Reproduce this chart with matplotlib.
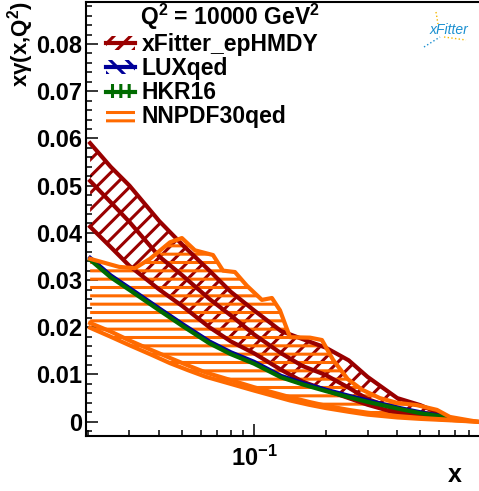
import matplotlib
matplotlib.use("Agg")
import numpy as np
import matplotlib.pyplot as plt
from matplotlib.patches import Patch
from matplotlib.lines import Line2D
from matplotlib.ticker import LogLocator, NullFormatter, MultipleLocator, FuncFormatter

plt.rcParams['font.family'] = ['Liberation Sans', 'DejaVu Sans']
plt.rcParams['font.weight'] = 'bold'
plt.rcParams['mathtext.fontset'] = 'custom'
plt.rcParams['mathtext.rm'] = 'Liberation Sans:bold'
plt.rcParams['mathtext.bf'] = 'Liberation Sans:bold'
plt.rcParams['mathtext.default'] = 'rm'
plt.rcParams['hatch.linewidth'] = 2.2

# xFitter_epHMDY band (upper / central / lower)
x_xf = [0.0205, 0.025, 0.03, 0.04, 0.05, 0.065, 0.08, 0.1, 0.13, 0.16, 0.2, 0.25, 0.3, 0.4, 0.5, 0.6, 0.66]
xf_up = [0.059, 0.054, 0.050, 0.0425, 0.0375, 0.032, 0.0275, 0.0236, 0.0192, 0.0175, 0.0157, 0.013, 0.0095, 0.005, 0.0035, 0.0018, 0.0008]
xf_mid = [0.051, 0.0465, 0.0423, 0.035, 0.031, 0.026, 0.0225, 0.0185, 0.0145, 0.0118, 0.0099, 0.0072, 0.0048, 0.0025, 0.0017, 0.0011, 0.0007]
xf_lo = [0.0413, 0.037, 0.033, 0.028, 0.0245, 0.020, 0.017, 0.0145, 0.011, 0.0085, 0.0067, 0.005, 0.0036, 0.0018, 0.001, 0.0006, 0.0004]

# LUXqed and HKR16 (narrow bands, drawn as thick curves)
lux = [0.0347, 0.031, 0.0283, 0.024, 0.0207, 0.017, 0.0147, 0.0127, 0.0097, 0.0082, 0.0068, 0.0055, 0.0045, 0.003, 0.002, 0.0013, 0.0009]
hkr = [0.0343, 0.0306, 0.0279, 0.0236, 0.0203, 0.0166, 0.0143, 0.0123, 0.0094, 0.0079, 0.0065, 0.0052, 0.0042, 0.0028, 0.0018, 0.0012, 0.0008]

# NNPDF30qed upper edge (replica envelope)
x_nn_up = [0.0205, 0.0271, 0.0316, 0.0366, 0.0444, 0.0498, 0.0565, 0.0673, 0.0741, 0.0832, 0.0934, 0.108, 0.119,
           0.1286, 0.1417, 0.172, 0.193, 0.215, 0.248, 0.284, 0.338, 0.399, 0.484, 0.587, 0.666, 0.865]
nn_up = [0.0345, 0.0328, 0.0325, 0.0345, 0.0380, 0.0389, 0.0363, 0.0353, 0.0320, 0.0317, 0.0288, 0.0258, 0.0262,
         0.0236, 0.0179, 0.0178, 0.0173, 0.0131, 0.0090, 0.0068, 0.0050, 0.0040, 0.0035, 0.0025, 0.0010, 0.0]
# NNPDF30qed lower curves
x_nn_lo = [0.0205, 0.025, 0.03, 0.037, 0.0444, 0.0529, 0.0629, 0.08, 0.1, 0.12, 0.1417, 0.17, 0.2, 0.25, 0.3,
           0.4, 0.5, 0.666, 0.865]
nn_lo1 = [0.0209, 0.0191, 0.0172, 0.0152, 0.0135, 0.0119, 0.0104, 0.0088, 0.0073, 0.0062, 0.0052, 0.0042, 0.0034,
          0.0025, 0.0019, 0.0012, 0.0008, 0.0004, 0.0]
nn_lo2 = [0.0199, 0.0180, 0.0162, 0.0142, 0.0124, 0.0109, 0.0095, 0.0080, 0.0066, 0.0055, 0.0045, 0.0036, 0.0029,
          0.0021, 0.0015, 0.0009, 0.0006, 0.0003, 0.0]

labels = ["xFitter_epHMDY", "LUXqed", "HKR16", "NNPDF30qed"]
c_red, c_blue, c_green, c_orange = "#990000", "#000099", "#006b00", "#ff6a00"

fig = plt.figure(figsize=(4.79, 4.91), dpi=100)
ax = fig.add_axes([86 / 479, 55 / 491, 393 / 479, 434 / 491])

nn_lo_on_up = np.interp(np.log(x_nn_up), np.log(x_nn_lo), nn_lo2)

ax.fill_between(x_xf, xf_lo, xf_up, facecolor="none", edgecolor=c_red, hatch="//", linewidth=0, zorder=1)
ax.fill_between(x_nn_up, nn_lo_on_up, nn_up, facecolor="none", edgecolor=c_orange, hatch="--", linewidth=0, zorder=2)
for yy in (xf_up, xf_mid, xf_lo):
    ax.plot(x_xf, yy, color=c_red, lw=3.0, zorder=3)
ax.plot(x_xf, lux, color=c_blue, lw=3.0, zorder=4)
ax.plot(x_xf, hkr, color=c_green, lw=3.0, zorder=5)
ax.plot(x_nn_up, nn_up, color=c_orange, lw=3.0, zorder=6)
ax.plot(x_nn_lo, nn_lo1, color=c_orange, lw=3.0, zorder=6)
ax.plot(x_nn_lo, nn_lo2, color=c_orange, lw=3.0, zorder=6)

ax.set_xscale("log")
ax.set_xlim(0.0197, 0.882)
ax.set_ylim(-0.00303, 0.0889)
ax.xaxis.set_major_locator(LogLocator(base=10))
ax.xaxis.set_minor_locator(LogLocator(base=10, subs=range(2, 10)))
ax.xaxis.set_minor_formatter(NullFormatter())
ax.yaxis.set_major_locator(MultipleLocator(0.01))
ax.yaxis.set_minor_locator(MultipleLocator(0.002))
ax.yaxis.set_major_formatter(FuncFormatter(lambda v, p: f"{v:.2f}".rstrip("0").rstrip(".") if abs(v) > 1e-9 else "0"))
ax.tick_params(which="both", direction="in", width=1.1, labelsize=17, right=False, top=False)
ax.tick_params(which="major", length=8.5)
ax.tick_params(which="minor", length=4.3)
ax.tick_params(axis="y", pad=3)
ax.tick_params(axis="x", pad=7)
ax.spines["right"].set_visible(False)
for s in ("left", "bottom", "top"):
    ax.spines[s].set_linewidth(1.5)

handles = [
    (Patch(facecolor="none", edgecolor=c_red, hatch="//", lw=0), Line2D([], [], color=c_red, lw=3)),
    (Patch(facecolor="none", edgecolor=c_blue, hatch="\\\\", lw=0), Line2D([], [], color=c_blue, lw=3)),
    (Patch(facecolor="none", edgecolor=c_green, hatch="||", lw=0), Line2D([], [], color=c_green, lw=3)),
    Patch(facecolor="none", edgecolor=c_orange, hatch="--", lw=0),
]
ax.legend(handles, labels, loc="upper left", bbox_to_anchor=(106 / 479, 1 - 33 / 491),
          bbox_transform=fig.transFigure, frameon=False, fontsize=16.5, handlelength=1.25,
          handleheight=0.6, handletextpad=0.3, labelspacing=0.05, borderpad=0, borderaxespad=0)

fig.text(140 / 479, 1 - 17 / 491, "Q$^{2}$ = 10000 GeV$^{2}$", fontsize=16.5, va="center", ha="left")
fig.text(21 / 479, 1 - 1 / 491, "x\u03b3(x,Q$^{2}$)", fontsize=16, rotation=90, ha="center", va="top")
fig.text(455 / 479, 1 - 475 / 491, "x", fontsize=18, ha="center", va="center")

# xFitter logo
fig.text(449 / 479, 1 - 30 / 491, "xFitter", fontsize=10, style="italic", weight="normal",
         color="#1a8fd0", ha="center", va="center")
fig.add_artist(Line2D([436 / 479, 438 / 479], [1 - 12 / 491, 1 - 24 / 491], color="#f5b800", lw=1, ls=":"))
fig.add_artist(Line2D([424 / 479, 440 / 479], [1 - 47 / 491, 1 - 37 / 491], color="#1a8fd0", lw=1, ls=":"))
fig.add_artist(Line2D([444 / 479, 466 / 479], [1 - 37 / 491, 1 - 40 / 491], color="#f5b800", lw=1, ls=":"))

fig.savefig("out.png", dpi=100)
